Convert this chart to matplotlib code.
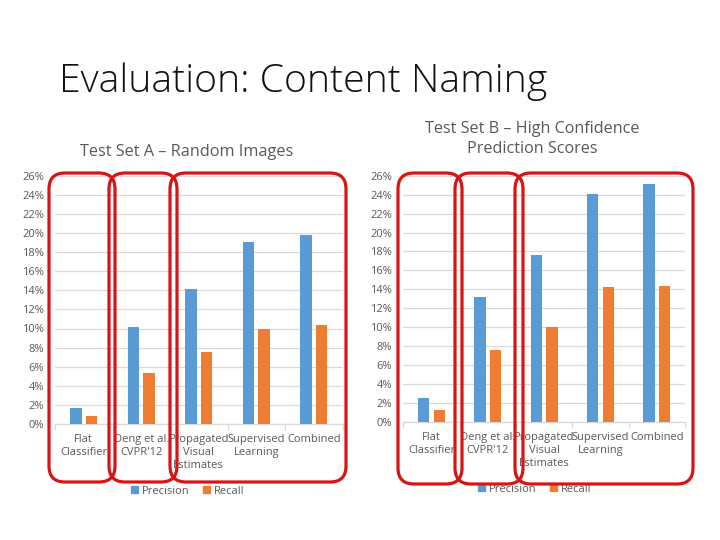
import matplotlib
matplotlib.use("Agg")
import matplotlib.pyplot as plt
from matplotlib.patches import FancyBboxPatch, Patch
import numpy as np

categories = ["Flat\nClassifier", "Deng et al.\nCVPR'12", "Propagated\nVisual\nEstimates",
              "Supervised\nLearning", "Combined"]
precision_a = [1.7, 10.2, 14.15, 19.1, 19.8]
recall_a = [0.8, 5.3, 7.5, 9.9, 10.4]
precision_b = [2.55, 13.2, 17.6, 24.1, 25.1]
recall_b = [1.3, 7.55, 10.05, 14.25, 14.35]
yticks = list(range(0, 27, 2))

BLUE = "#5B9BD5"
ORANGE = "#ED7D31"
GRID = "#D9D9D9"
TXT = "#595959"
RED = "#D81414"

W, H = 720, 540
fig = plt.figure(figsize=(7.2, 5.4), dpi=100)
plt.rcParams['font.family'] = ['Open Sans', 'DejaVu Sans']


def fx(x):
    return x / W


def fy(y):
    return 1 - y / H


def make_axes(x0, x1, ytop, ybot, prec, rec, lab_pad):
    ax = fig.add_axes([fx(x0), fy(ybot), fx(x1) - fx(x0), fy(ytop) - fy(ybot)])
    x = np.arange(len(categories))
    bw = 0.2
    off = 0.137
    ax.bar(x - off, prec, bw, color=BLUE, zorder=3)
    ax.bar(x + off, rec, bw, color=ORANGE, zorder=3)
    ax.set_xlim(-0.5, len(categories) - 0.5)
    ax.set_ylim(0, 26)
    ax.set_yticks(yticks)
    ax.set_yticklabels([f"{t}%" for t in yticks], fontsize=8, color=TXT)
    ax.yaxis.grid(True, color=GRID, lw=0.9, zorder=0)
    ax.set_xticks(x)
    ax.set_xticklabels(categories, fontsize=8, color=TXT, linespacing=1.25)
    ax.set_xticks(np.arange(-0.5, len(categories), 1), minor=True)
    ax.tick_params(axis='x', which='major', length=0, pad=lab_pad)
    ax.tick_params(axis='x', which='minor', length=4, color=GRID, width=0.9)
    ax.tick_params(axis='y', length=0, pad=8)
    for s in ['top', 'right', 'left']:
        ax.spines[s].set_visible(False)
    ax.spines['bottom'].set_color(GRID)
    ax.spines['bottom'].set_linewidth(0.9)
    ax.set_facecolor('none')
    return ax


axA = make_axes(55, 342.5, 175.7, 424, precision_a, recall_a, 7)
axB = make_axes(403.3, 685, 175.7, 422, precision_b, recall_b, 7)

fig.text(fx(59), fy(82), "Evaluation: Content Naming", fontsize=28.2, color="#111111",
         ha='left', va='center', fontweight='light')
fig.text(fx(187), fy(152), "Test Set A \u2013 Random Images", fontsize=11.7, color=TXT,
         ha='center', va='center')
fig.text(fx(532), fy(139), "Test Set B \u2013 High Confidence\nPrediction Scores", fontsize=11.6,
         color=TXT, ha='center', va='center', linespacing=1.3)

handles = [Patch(color=BLUE, label="Precision"), Patch(color=ORANGE, label="Recall")]
for cx, cy in [(188, 491), (535, 489)]:
    fig.legend(handles=handles, loc='center', bbox_to_anchor=(fx(cx), fy(cy)), ncol=2,
               frameon=False, fontsize=8, handlelength=0.6, handleheight=0.6,
               handletextpad=0.4, columnspacing=1.2, labelcolor=TXT)

boxes = [
    (49, 115, 173, 482), (109, 177, 173, 482), (170, 346, 173, 482),
    (398, 462, 173, 484), (455, 523, 173, 484), (515, 693, 173, 484),
]
for x0, x1, y0, y1 in boxes:
    p = FancyBboxPatch((x0, H - y1), x1 - x0, y1 - y0,
                       boxstyle="round,pad=0,rounding_size=16",
                       transform=None, fill=False, ec=RED, lw=2.3, zorder=10)
    fig.patches.append(p)

fig.savefig("out.png", dpi=100)
